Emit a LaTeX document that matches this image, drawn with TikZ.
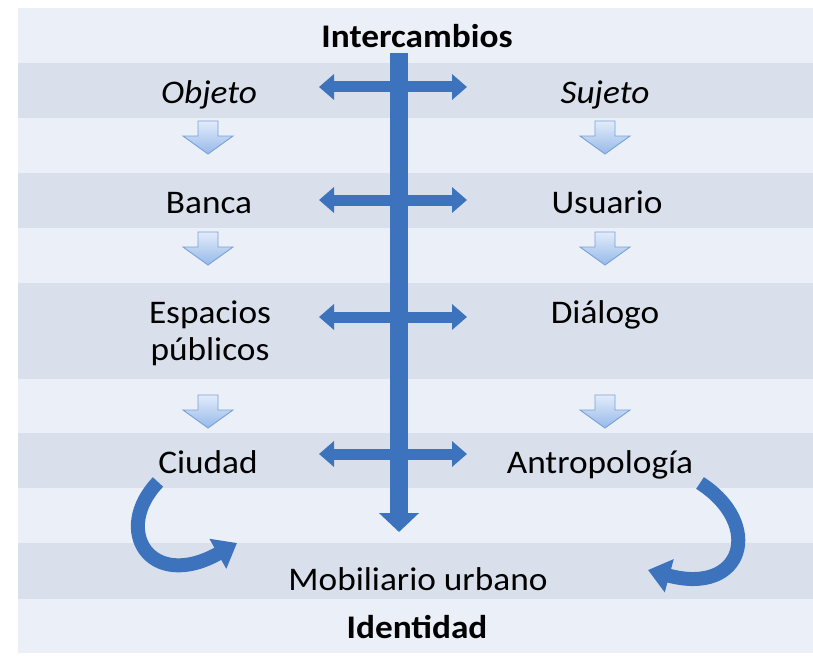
\documentclass[tikz,border=0pt]{standalone}
\usepackage{fontspec}
\setmainfont{Carlito}[FakeStretch=1.07]
\usepackage{tikz}
\usetikzlibrary{arrows.meta, positioning}
\usepackage{xcolor}

\definecolor{bandlight}{RGB}{235,239,247}
\definecolor{banddark}{RGB}{217,224,235}
\definecolor{arrowblue}{RGB}{61,115,189}
\definecolor{hollowtop}{RGB}{226,236,250}
\definecolor{hollowfill}{RGB}{150,185,234}
\definecolor{hollowedge}{RGB}{120,160,215}

\tikzset{
  term/.style={font=\fontsize{33}{37}\selectfont, anchor=base, align=center, inner sep=0pt},
  heading/.style={term, font=\fontsize{33}{37}\selectfont\bfseries},
  exchange/.style={arrowblue, line width=11pt, {Triangle[width=25pt,length=15pt]}-{Triangle[width=25pt,length=15pt]}},
  spine/.style={arrowblue, line width=18pt, -{Triangle[width=39pt,length=19pt]}},
  curl/.style={arrowblue, line width=14pt, -{Triangle[width=33pt,length=22pt]}},
  dnarrow/.pic={
    \draw[hollowedge, top color=hollowtop, bottom color=hollowfill, line width=0.9pt]
      (-10,0) -- (10,0) -- (10,15) -- (25,15) -- (0,33) -- (-25,15) -- (-10,15) -- cycle;
  }
}

\begin{document}
\begin{tikzpicture}[x=1pt, y=-1pt]
        % Bands
        \useasboundingbox (0,0) rectangle (813,658);
        \fill[white] (0,0) rectangle (813,658);
        \fill[bandlight] (18,8) rectangle (813,653);
        \foreach \ya/\yb in {63/118, 173/228, 283/379, 433/488, 543/599}
            \fill[banddark] (18,\ya) rectangle (813,\yb);

        % Terms
        \node[heading] (inter) at (417,48) {Intercambios};
        \node[term] (objeto) at (209,104) {\itshape Objeto};
        \node[term] (sujeto) at (605,104) {\itshape Sujeto};
        \node[term] (banca) at (209,213) {Banca};
        \node[term] (usuario) at (607,213) {Usuario};
        \node[term] (espacios) at (210,360) {Espacios\\públicos};
        \node[term] (dialogo) at (605,323) {Diálogo};
        \node[term] (ciudad) at (208,473) {Ciudad};
        \node[term] (antropo) at (600,473) {Antropología};
        \node[term] (mobiliario) at (418,590) {Mobiliario urbano};
        \node[heading] (identidad) at (417,638) {Identidad};

        % Steps down each column
        \foreach \x in {208,605}
            \foreach \y in {121,232,395}
                \pic at (\x,\y) {dnarrow};

        % Exchanges
        \foreach \y [count=\i] in {87,200,317,454} {
            \coordinate (xl\i) at (319,\y);
            \coordinate (xr\i) at (467,\y);
            \draw[exchange] (xl\i) -- (xr\i);
        }
        \coordinate (spinetop) at (399,53);
        \coordinate (spineend) at (399,532);
        \draw[spine] (spinetop) -- (spineend);

        % Curls into the furniture
        \coordinate (curlL) at (158,482);
        \coordinate (tipL) at (237,543);
        \coordinate (curlR) at (700,483);
        \coordinate (tipR) at (648,570);
        \draw[curl] (curlL) .. controls (112,530) and (150,592) .. (tipL);
        \draw[curl] (curlR) .. controls (764,524) and (744,596) .. (tipR);
\end{tikzpicture}
\end{document}
